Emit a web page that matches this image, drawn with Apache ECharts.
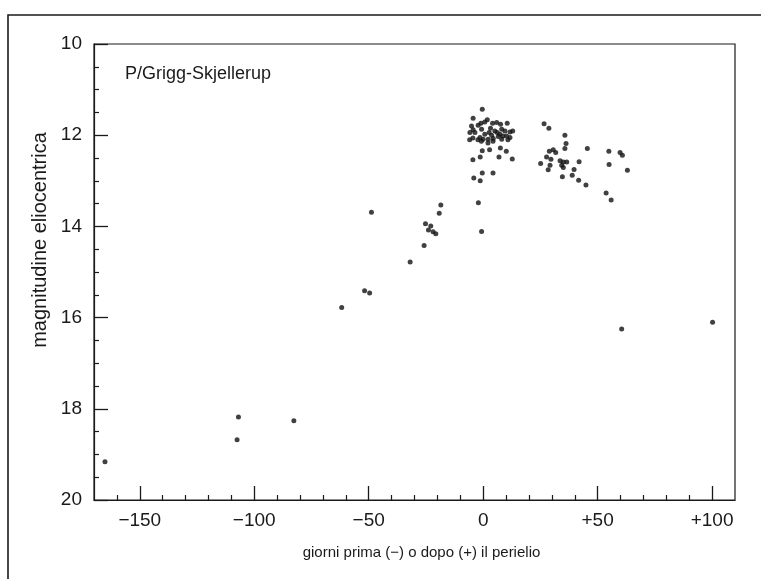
<!DOCTYPE html>
<html>
<head>
<meta charset="utf-8">
<script src="https://cdn.jsdelivr.net/npm/echarts@6/dist/echarts.min.js"></script>
<style>
html,body{margin:0;padding:0;background:#fff;}
#c{width:761px;height:579px;}
</style>
</head>
<body>
<div id="c"></div>
<script>
// Days relative to perihelion (x) and heliocentric magnitude (y)
const days = [
  -165.2, -107.5, -106.9, -82.7, -61.8, -51.8, -49.6, -48.8, -31.9, -25.8,
  -25.2, -23.9, -22.9, -21.9, -20.7, -19.2, -18.5,
  -0.4, -4.4, -2.2, -1.0, 0.7, 1.8, 4.1, 5.9, 7.6, 10.5,
  -5.1, -4.4, -5.8, -3.6, -0.7, 0.7, 2.6, 3.7, 5.1, 6.1,
  8.1, 9.5, 11.7, 12.9, 2.2, 4.4, 6.6, 8.1, 10.2, 11.7,
  0.0, -1.4, 7.3, 3.2,
  -5.9, -4.5, -2.3, -0.8, 2.1, 4.3, 8.6, 10.8, -0.4, 2.8,
  7.5, 10.1, -4.5, -1.3, 6.9, 12.7, -0.4, 4.3, -4.1, -1.3,
  -2.1, -0.7,
  26.6, 28.7, 35.7, 36.2, 35.7, 45.5, 28.9, 30.6, 31.7, 27.7,
  29.6, 25.1, 29.2, 28.4, 33.6, 35.0, 36.5, 34.3, 35.0, 41.9,
  39.7, 34.6, 38.9, 41.7, 44.9, 54.9, 59.8, 60.8, 55.0, 63.0,
  53.7, 55.9,
  60.5, 100.2
];
const magnitudes = [
  19.16, 18.68, 18.18, 18.26, 15.78, 15.41, 15.46, 13.69, 14.78, 14.42,
  13.94, 14.08, 13.99, 14.12, 14.16, 13.71, 13.53,
  11.43, 11.63, 11.78, 11.74, 11.71, 11.66, 11.74, 11.72, 11.76, 11.74,
  11.80, 11.88, 11.94, 11.94, 11.87, 11.98, 11.94, 12.00, 11.91, 11.94,
  11.87, 11.91, 11.93, 11.91, 12.09, 12.07, 12.03, 12.09, 12.02, 12.05,
  12.09, 12.05, 11.98, 11.85,
  12.10, 12.06, 12.10, 12.13, 12.17, 12.13, 12.02, 12.10, 12.34, 12.32,
  12.28, 12.35, 12.54, 12.48, 12.48, 12.52, 12.83, 12.83, 12.94, 13.00,
  13.48, 14.11,
  11.75, 11.85, 12.00, 12.18, 12.29, 12.29, 12.35, 12.32, 12.38, 12.48,
  12.53, 12.62, 12.66, 12.76, 12.56, 12.59, 12.59, 12.66, 12.71, 12.58,
  12.75, 12.91, 12.88, 12.99, 13.09, 12.35, 12.38, 12.44, 12.64, 12.77,
  13.27, 13.42,
  16.25, 16.10
];
const xTickValues = [-150, -100, -50, 0, 50, 100];
const xTickLabels = ['\u2212150', '\u2212100', '\u221250', '0', '+50', '+100'];
const xMinorTicks = [-160, -140, -130, -120, -110, -90, -80, -70, -60, -40, -30, -20, -10,
  10, 20, 30, 40, 60, 70, 80, 90];
const yTickLabels = ['10', '12', '14', '16', '18', '20'];
const titleText = 'P/Grigg-Skjellerup';
const xName = 'giorni prima (\u2212) o dopo (+) il perielio';
const yName = 'magnitudine eliocentrica';

const points = days.map((d, i) => [d, magnitudes[i]]);
const FONT = '"Liberation Sans", Arial, Helvetica, sans-serif';
const ink = '#1a1a1a';

const chart = echarts.init(document.getElementById('c'), null, {renderer: 'canvas'});
chart.setOption({
  animation: false,
  backgroundColor: '#fff',
  title: {
    text: titleText,
    left: 120, top: 60,
    textStyle: {fontFamily: FONT, fontSize: 18, fontWeight: 'normal', color: ink}
  },
  grid: {
    left: 94, right: 26, top: 44, bottom: 79,
    show: true, borderColor: ink, borderWidth: 1.2, backgroundColor: 'transparent'
  },
  xAxis: [{
    type: 'value', min: -170, max: 110, interval: 10,
    name: xName, nameLocation: 'middle', nameGap: 45,
    nameTextStyle: {fontFamily: FONT, fontSize: 15, color: ink, padding: [0, 0, 0, 14]},
    axisLine: {show: true, onZero: false, lineStyle: {color: ink, width: 1.2}},
    axisTick: {show: true, inside: true, length: 14, customValues: xTickValues,
      lineStyle: {color: ink, width: 1.3}},
    axisLabel: {show: true, margin: 11, customValues: xTickValues,
      fontFamily: FONT, fontSize: 19, color: ink,
      formatter: v => { const i = xTickValues.indexOf(Math.round(v)); return i >= 0 ? xTickLabels[i] : ''; }},
    splitLine: {show: false}
  }, {
    type: 'value', min: -170, max: 110, interval: 10, position: 'bottom',
    axisLine: {show: false, onZero: false},
    axisTick: {show: true, inside: true, length: 5, customValues: xMinorTicks,
      lineStyle: {color: ink, width: 1.2}},
    axisLabel: {show: false},
    splitLine: {show: false}
  }],
  yAxis: {
    type: 'value', min: 10, max: 20, interval: 2, inverse: true,
    axisLine: {show: true, onZero: false, lineStyle: {color: ink, width: 1.2}},
    axisTick: {show: true, inside: true, length: 14, lineStyle: {color: ink, width: 1.3}},
    minorTick: {show: true, splitNumber: 4, length: 5, lineStyle: {color: ink, width: 1.2}},
    axisLabel: {margin: 12, fontFamily: FONT, fontSize: 19, color: ink,
      formatter: v => yTickLabels[Math.round((v - 10) / 2)] || ''},
    splitLine: {show: false}
  },
  graphic: [{
    type: 'polyline',
    shape: {points: [[8, 579], [8, 15], [761, 15]]},
    style: {stroke: ink, lineWidth: 1.6, fill: null}
  }, {
    type: 'text',
    x: 40, y: 240,
    rotation: Math.PI / 2,
    style: {text: yName, x: 0, y: 0, align: 'center', verticalAlign: 'middle',
      font: '20px "Liberation Sans", Arial, sans-serif', fill: ink}
  }],
  series: [{
    type: 'scatter',
    xAxisIndex: 0,
    data: points,
    symbol: 'circle',
    symbolSize: 5,
    itemStyle: {color: '#111'}
  }]
});
</script>
</body>
</html>
